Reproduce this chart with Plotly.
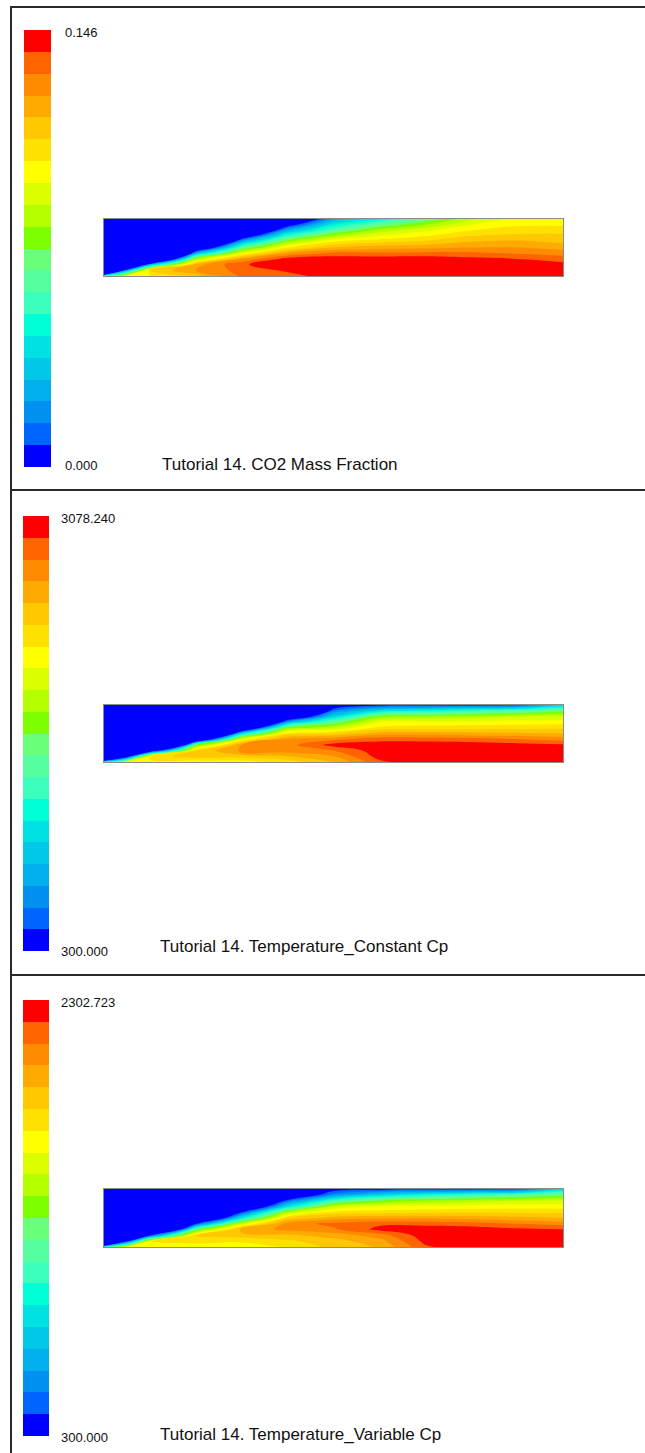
import numpy as np
import plotly.graph_objects as go

W, H = 645, 1453

# ---------------- data ----------------
# grid positions along the channel (fraction of length) and across it (fraction of height, 0 = axis)
X_POS = [0, 0.05, 0.1, 0.2, 0.3, 0.4, 0.5, 0.6, 0.7, 0.8, 0.9, 1.0]
H_POS = [0, 0.1, 0.2, 0.3, 0.4, 0.5, 0.6, 0.7, 0.8, 0.9, 1.0]

# 20 legend bands, bottom (minimum) to top (maximum)
BAND_COLORS = [
    "rgb(0,0,255)", "rgb(0,100,255)", "rgb(0,145,240)", "rgb(0,175,235)",
    "rgb(0,200,230)", "rgb(0,225,225)", "rgb(0,255,215)", "rgb(60,255,190)",
    "rgb(85,255,160)", "rgb(105,255,120)", "rgb(125,255,0)", "rgb(180,255,0)",
    "rgb(220,255,0)", "rgb(255,255,0)", "rgb(255,225,0)", "rgb(255,200,0)",
    "rgb(255,170,0)", "rgb(255,140,0)", "rgb(255,100,0)", "rgb(255,0,0)",
]

CO2_RANGE = [0.0, 0.146]
TCONST_RANGE = [300.0, 3078.240]
TVAR_RANGE = [300.0, 2302.723]

CO2_LABELS = ["0.146", "0.000"]
TCONST_LABELS = ["3078.240", "300.000"]
TVAR_LABELS = ["2302.723", "300.000"]

TITLES = [
    "Tutorial 14. CO2 Mass Fraction",
    "Tutorial 14. Temperature_Constant Cp",
    "Tutorial 14. Temperature_Variable Cp",
]

# field values, as legend-band position (0..20; values
# below 0 lie inside the lowest, blue band), one list per X_POS column,
# values from axis (H_POS=0) to wall (H_POS=1)
CO2_BANDS = [
    [8, -30, -30, -30, -30, -30, -30, -30, -30, -30, -30],
    [13.5, 3.7, -28, -30, -30, -30, -30, -30, -30, -30, -30],
    [14, 15, 3.7, -12, -28, -30, -30, -30, -30, -30, -30],
    [15.5, 17, 16.5, 11.5, 3.7, -4.3, -12, -20, -28, -30, -30],
    [18.2, 18.4, 18.9, 17, 13.1, 8.6, 3.7, -1.6, -7, -12, -17],
    [18.6, 19.2, 19.5, 19.5, 17, 14, 11, 7.5, 3.7, -0.3, -4.3],
    [19.5, 19.6, 19.6, 19.6, 18.3, 16, 14, 11.5, 8.5, 6, 3.5],
    [19.6, 19.6, 19.6, 19.6, 18.2, 16.5, 14.8, 13, 11.5, 9, 6],
    [19.6, 19.6, 19.6, 19.6, 18.3, 16.7, 15.2, 14, 12.8, 11, 9],
    [19.6, 19.6, 19.6, 19.3, 18.2, 17, 16, 15, 14, 13, 11.8],
    [19.6, 19.6, 19.5, 19, 17.9, 17, 16.2, 15.3, 14.5, 13.8, 13.2],
    [19.6, 19.6, 19.3, 18.6, 17.5, 16.6, 15.8, 15.3, 14.6, 13.8, 13.3],
]

TCONST_BANDS = [
    [8, -30, -30, -30, -30, -30, -30, -30, -30, -30, -30],
    [13, -1.5, -30, -30, -30, -30, -30, -30, -30, -30, -30],
    [13.5, 14.5, -3, -30, -30, -30, -30, -30, -30, -30, -30],
    [13.5, 15.5, 15, 10, -5.6, -22, -30, -30, -30, -30, -30],
    [13.5, 15.5, 17.3, 17, 13.3, 5.5, -5.6, -16, -25, -30, -30],
    [14.5, 16, 17.5, 17.6, 17.2, 14.5, 10.5, 3.5, -3.5, -11, -19],
    [16, 17, 18, 19.4, 17.8, 15, 12, 9, 5, 2, -1],
    [18.8, 19.4, 19.6, 19.6, 18.6, 16.5, 14.3, 13, 10.5, 5.5, 0.5],
    [19.6, 19.6, 19.6, 19.6, 18.6, 16.5, 14.5, 13.2, 11, 6.5, 0.7],
    [19.6, 19.6, 19.6, 19.6, 18.4, 16.3, 14.6, 13.3, 11.5, 7.5, 0.8],
    [19.6, 19.6, 19.6, 19.4, 18, 16.2, 14.7, 13.4, 12, 8.5, 0.9],
    [19.6, 19.6, 19.6, 19.2, 17.6, 16, 14.8, 13.5, 12.2, 9.5, 5],
]

TVAR_BANDS = [
    [8, -30, -30, -30, -30, -30, -30, -30, -30, -30, -30],
    [13, 0.5, -30, -30, -30, -30, -30, -30, -30, -30, -30],
    [13.2, 14, 0.8, -16, -30, -30, -30, -30, -30, -30, -30],
    [13.2, 14.5, 15, 9.5, 0.8, -7.5, -16, -25, -30, -30, -30],
    [13.3, 14.2, 15.5, 16.5, 12.5, 6, 0.8, -4.7, -10, -16, -21],
    [14.2, 14.8, 15.8, 17.2, 17.5, 15, 11.5, 5.5, 1.5, -2.5, -6.5],
    [15.3, 15.6, 16.4, 17.8, 18.3, 16.5, 14.3, 12, 7.5, 2.5, 0.2],
    [16.1, 16.6, 17.5, 19.3, 18.8, 16.8, 14.5, 13, 10, 5, 0.5],
    [18.8, 19.3, 19.6, 19.6, 18.7, 16.8, 14.7, 13.2, 11, 6.5, 0.7],
    [19.6, 19.6, 19.6, 19.6, 18.5, 16.6, 14.8, 13.4, 11.5, 7.5, 0.8],
    [19.6, 19.6, 19.6, 19.3, 18, 16.3, 14.8, 13.5, 12, 8.5, 0.9],
    [19.6, 19.6, 19.6, 19.1, 17.6, 16, 14.8, 13.5, 12.2, 9.5, 5],
]

# ---------------- layout (pixel boxes) ----------------
PANELS = [
    dict(bands=CO2_BANDS, rng=CO2_RANGE, labels=CO2_LABELS, title=TITLES[0],
         field=(104, 563, 219, 276), bar=(24, 51, 30, 467),
         top_lbl=(63, 32), bot_lbl=(63, 466), title_pos=(160, 464)),
    dict(bands=TCONST_BANDS, rng=TCONST_RANGE, labels=TCONST_LABELS, title=TITLES[1],
         field=(104, 563, 705, 762), bar=(23, 49, 516, 951),
         top_lbl=(59, 518), bot_lbl=(59, 951), title_pos=(158, 946)),
    dict(bands=TVAR_BANDS, rng=TVAR_RANGE, labels=TVAR_LABELS, title=TITLES[2],
         field=(104, 563, 1189, 1247), bar=(23, 49, 1000, 1436),
         top_lbl=(59, 1002), bot_lbl=(59, 1437), title_pos=(158, 1434)),
]


def px(v):
    return v / W


def py(v):
    return 1 - v / H


N = len(BAND_COLORS)
colorscale = [[k / (N - 1), c] for k, c in enumerate(BAND_COLORS)]

fig = go.Figure()
layout_axes = {}
annotations = []
FONT = "Liberation Sans, Arial, sans-serif"

for i, p in enumerate(PANELS):
    vmin, vmax = p["rng"]
    step = (vmax - vmin) / N
    z = vmin + np.array(p["bands"], dtype=float).T * step

    a_f = 2 * i + 1
    a_b = 2 * i + 2
    fig.add_trace(go.Contour(
        x=X_POS, y=H_POS, z=z,
        colorscale=colorscale, autocontour=False,
        contours=dict(start=vmin + step, end=vmin + (N - 1) * step, size=step,
                      coloring="fill", showlines=False),
        line=dict(width=0, smoothing=1.3),
        showscale=False, hoverinfo="skip",
        xaxis=f"x{a_f}", yaxis=f"y{a_f}",
    ))

    mids = [vmin + (k + 0.5) * step for k in range(N)]
    fig.add_trace(go.Heatmap(
        x=[0], y=list(range(N)), z=[[m] for m in mids],
        colorscale=colorscale, zmin=mids[0], zmax=mids[-1],
        showscale=False, hoverinfo="skip",
        xaxis=f"x{a_b}", yaxis=f"y{a_b}",
    ))

    x0, x1, y0, y1 = p["field"]
    fx = dict(domain=[px(x0), px(x1)], range=[0, 1], showline=True, mirror=True,
              linecolor="#8c8c8c", linewidth=1, showticklabels=False, ticks="",
              showgrid=False, zeroline=False, fixedrange=True)
    fy = dict(fx)
    fy["domain"] = [py(y1), py(y0)]
    layout_axes[f"xaxis{a_f}"] = dict(fx, anchor=f"y{a_f}")
    layout_axes[f"yaxis{a_f}"] = dict(fy, anchor=f"x{a_f}")

    bx0, bx1, by0, by1 = p["bar"]
    layout_axes[f"xaxis{a_b}"] = dict(domain=[px(bx0), px(bx1)], range=[-0.5, 0.5],
                                      visible=False, anchor=f"y{a_b}", fixedrange=True)
    layout_axes[f"yaxis{a_b}"] = dict(domain=[py(by1), py(by0)], range=[-0.5, N - 0.5],
                                      visible=False, anchor=f"x{a_b}", fixedrange=True)

    for txt, pos in ((p["labels"][0], p["top_lbl"]), (p["labels"][1], p["bot_lbl"])):
        annotations.append(dict(text=txt, x=px(pos[0]), y=py(pos[1]), xref="paper", yref="paper",
                                xanchor="left", yanchor="middle", showarrow=False,
                                font=dict(family=FONT, size=13, color="#111111")))
    annotations.append(dict(text=p["title"], x=px(p["title_pos"][0]), y=py(p["title_pos"][1]),
                            xref="paper", yref="paper", xanchor="left", yanchor="middle",
                            showarrow=False, font=dict(family=FONT, size=17, color="#111111")))

LINE = dict(color="#2a2a2a", width=2)
shapes = [
    dict(type="line", xref="paper", yref="paper", x0=px(11), x1=px(11), y0=0, y1=py(7), line=LINE),
    dict(type="line", xref="paper", yref="paper", x0=px(10), x1=1, y0=py(7), y1=py(7), line=LINE),
    dict(type="line", xref="paper", yref="paper", x0=px(10), x1=1, y0=py(490), y1=py(490), line=LINE),
    dict(type="line", xref="paper", yref="paper", x0=px(10), x1=1, y0=py(975), y1=py(975), line=LINE),
]

fig.update_layout(
    width=W, height=H,
    margin=dict(l=0, r=0, t=0, b=0),
    paper_bgcolor="white", plot_bgcolor="white",
    showlegend=False,
    annotations=annotations, shapes=shapes,
    **layout_axes,
)

fig.write_html(
    "out.html",
    config={"displayModeBar": False},
    post_script="document.body.style.margin='0';document.body.style.padding='0';"
                "document.body.style.overflow='hidden';",
)
